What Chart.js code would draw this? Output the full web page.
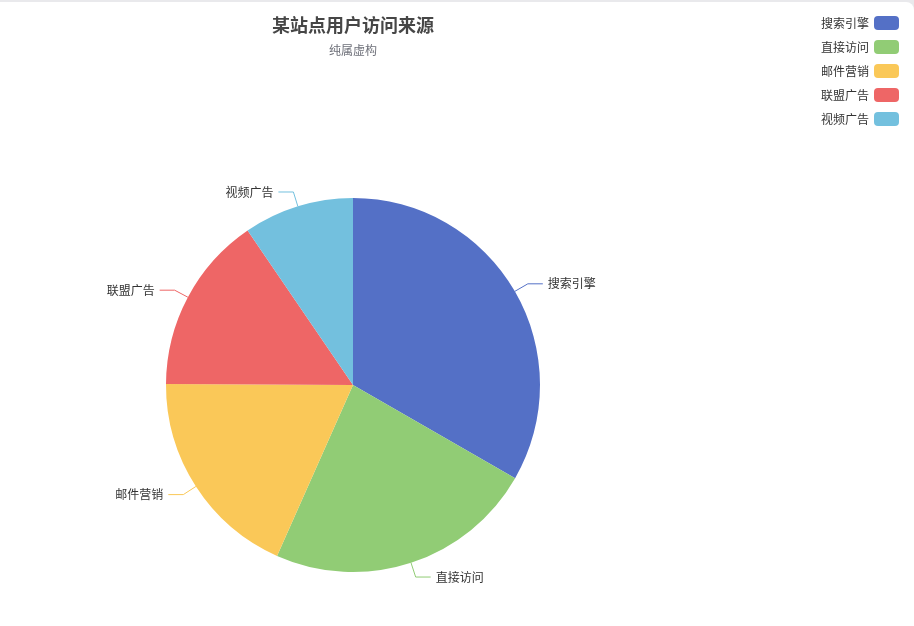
<!DOCTYPE html>
<html>
<head>
<meta charset="utf-8">
<script src="https://cdn.jsdelivr.net/npm/chart.js@4"></script>
<style>
  html, body { margin: 0; padding: 0; background: #e9e9ec; }
  #wrap { position: absolute; left: 0; top: 2px; width: 914px; height: 624px; background: #fff; border-top-right-radius: 8px; }
  canvas { display: block; }
</style>
</head>
<body>
<div id="wrap"><canvas id="pie" width="914" height="624"></canvas></div>
<script>
// --- data ---
const categories = ['搜索引擎', '直接访问', '邮件营销', '联盟广告', '视频广告'];
const visits = [1048, 735, 580, 484, 300];
const colors = ['#5470c6', '#91cc75', '#fac858', '#ee6666', '#73c0de'];
const titleText = '某站点用户访问来源';
const subtitleText = '纯属虚构';

const FONT = '"Noto Sans CJK SC", "Noto Sans", sans-serif';

// title, subtitle, legend and outside labels with leader lines
const decorations = {
    id: 'decorations',
    afterDatasetsDraw(chart) {
        const ctx = chart.ctx;
        const meta = chart.getDatasetMeta(0);
        const cx = meta.data[0].x;

        ctx.save();
        // title
        ctx.textAlign = 'center';
        ctx.textBaseline = 'middle';
        ctx.fillStyle = '#464646';
        ctx.font = 'bold 18px ' + FONT;
        ctx.fillText(titleText, cx, 23);
        ctx.fillStyle = '#6e7079';
        ctx.font = '12px ' + FONT;
        ctx.fillText(subtitleText, cx, 48);

        // legend
        ctx.font = '12px ' + FONT;
        categories.forEach((name, i) => {
            const y = 21 + i * 24;
            ctx.fillStyle = colors[i];
            ctx.beginPath();
            ctx.roundRect(874, y - 7, 25, 14, 4);
            ctx.fill();
            ctx.fillStyle = '#333';
            ctx.textAlign = 'right';
            ctx.fillText(name, 869, y);
        });

        // labels
        meta.data.forEach((arc, i) => {
            const mid = (arc.startAngle + arc.endAngle) / 2;
            const r = arc.outerRadius;
            const x0 = arc.x + Math.cos(mid) * r;
            const y0 = arc.y + Math.sin(mid) * r;
            const x1 = arc.x + Math.cos(mid) * (r + 15);
            const y1 = arc.y + Math.sin(mid) * (r + 15);
            const right = Math.cos(mid) >= 0;
            const x2 = x1 + (right ? 15 : -15);
            ctx.strokeStyle = colors[i];
            ctx.lineWidth = 1;
            ctx.beginPath();
            ctx.moveTo(x0, y0);
            ctx.lineTo(x1, y1);
            ctx.lineTo(x2, y1);
            ctx.stroke();
            ctx.fillStyle = '#333';
            ctx.textAlign = right ? 'left' : 'right';
            ctx.fillText(categories[i], x2 + (right ? 5 : -5), y1);
        });
        ctx.restore();
    }
};

new Chart(document.getElementById('pie'), {
    type: 'pie',
    data: {
        labels: categories,
        datasets: [{
            label: '访问来源',
            data: visits,
            backgroundColor: colors,
            borderWidth: 0
        }]
    },
    options: {
        responsive: false,
        animation: false,
        layout: {
            padding: { left: 166, right: 374, top: 196, bottom: 54 }
        },
        plugins: {
            legend: { display: false },
            tooltip: { enabled: false }
        }
    },
    plugins: [decorations]
});
</script>
</body>
</html>
